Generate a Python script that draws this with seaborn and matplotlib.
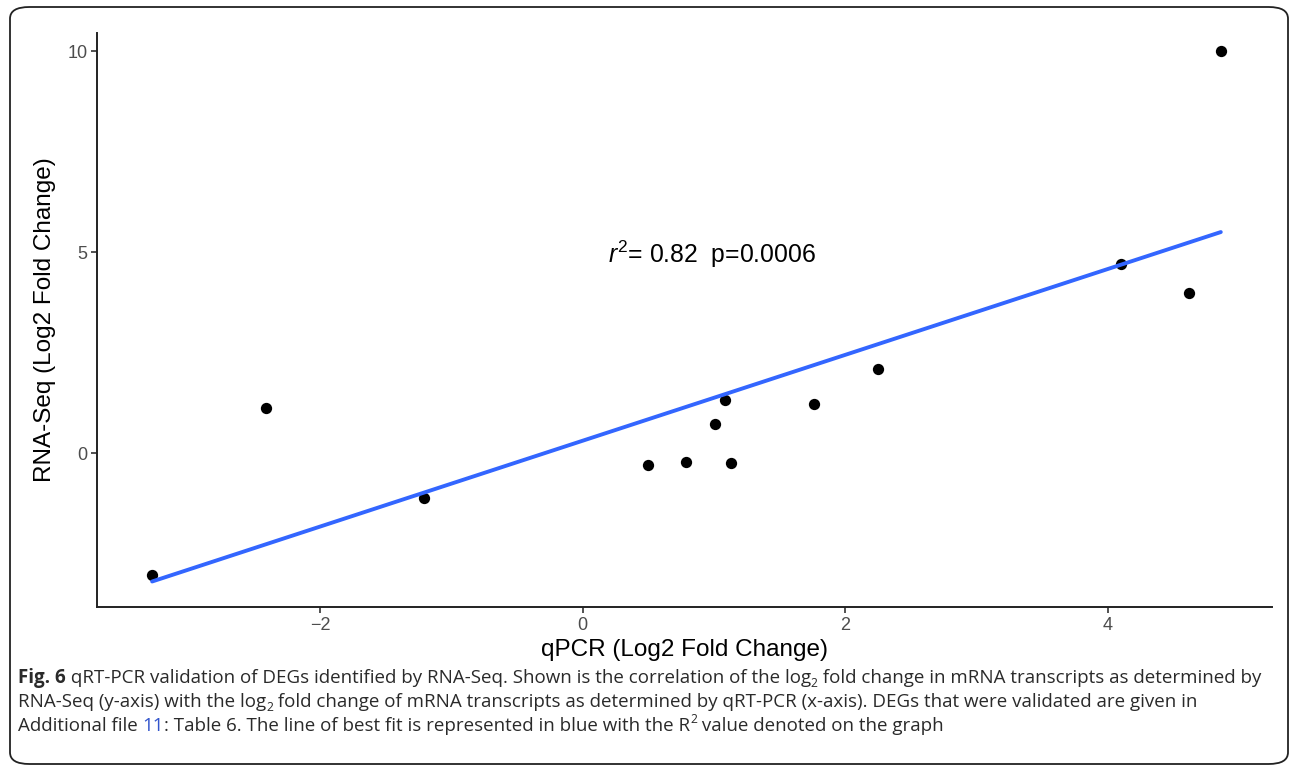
import numpy as np
import pandas as pd
import matplotlib
matplotlib.use('Agg')
import matplotlib.pyplot as plt
import seaborn as sns
from matplotlib.patches import FancyBboxPatch

# values
qpcr = [-3.28, -2.41, -1.21, 0.50, 0.79, 1.01, 1.08, 1.13, 1.76, 2.25, 4.10, 4.62, 4.86]
rnaseq = [-3.03, 1.12, -1.12, -0.30, -0.22, 0.72, 1.32, -0.25, 1.22, 2.09, 4.70, 3.98, 10.0]
x_ticks = [-2, 0, 2, 4]
y_ticks = [0, 5, 10]
stat_label = r'$r^2$= 0.82  p=0.0006'

df = pd.DataFrame({'qpcr': qpcr, 'rnaseq': rnaseq})

sns.set_style('white')
plt.rcParams['font.family'] = ['Liberation Sans', 'DejaVu Sans']
plt.rcParams['mathtext.fontset'] = 'custom'
plt.rcParams['mathtext.rm'] = 'Liberation Sans'
plt.rcParams['mathtext.it'] = 'Liberation Sans:italic'

W, H = 1290, 772
fig = plt.figure(figsize=(W / 100, H / 100), dpi=100)

# rounded frame round the whole figure
frame = FancyBboxPatch((10 / W, 8 / H), 1278 / W, 757 / H,
                       boxstyle='round,pad=0,rounding_size=0.015',
                       transform=fig.transFigure, fill=False,
                       edgecolor='#222222', linewidth=1.3)
fig.patches.append(frame)

ax = fig.add_axes([97 / W, 1 - 607 / H, (1272 - 97) / W, (607 - 33) / H])

sns.regplot(data=df, x='qpcr', y='rnaseq', ax=ax, ci=None, truncate=True,
            scatter_kws={'color': 'black', 's': 66, 'alpha': 1, 'linewidths': 0},
            line_kws={'color': '#3366FF', 'linewidth': 2.8})

ax.set_xlim(-3.70, 5.25)
ax.set_ylim(-3.83, 10.45)
ax.set_xticks(x_ticks)
ax.set_yticks(y_ticks)
ax.set_xticklabels(['\u22122', '0', '2', '4'])
ax.tick_params(axis='both', bottom=True, left=True, labelsize=13, labelcolor='#4d4d4d',
               color='#333333', length=4, width=1.2, direction='out', pad=3)
for side in ['top', 'right']:
    ax.spines[side].set_visible(False)
for side in ['left', 'bottom']:
    ax.spines[side].set_color('#222222')
    ax.spines[side].set_linewidth(1.4)

ax.set_xlabel('qPCR (Log2 Fold Change)', fontsize=17.5, color='black', labelpad=4)
ax.set_ylabel('RNA-Seq (Log2 Fold Change)', fontsize=17.5, color='black', labelpad=8)

ax.text(0.19, 4.95, stat_label, fontsize=17.8, ha='left', va='center', color='black')

# caption, drawn piece by piece
renderer = fig.canvas.get_renderer()
cap_font = ['Open Sans', 'DejaVu Sans']
cap_size = 13.5


def draw_line(pieces, x0, y0):
    x = x0
    for txt, kind in pieces:
        size = cap_size
        dy = 0
        weight = 'normal'
        color = '#2a2a2a'
        if kind == 'bold':
            weight = 'bold'
        elif kind == 'sub':
            size = cap_size * 0.65
            dy = -4
        elif kind == 'sup':
            size = cap_size * 0.65
            dy = 8
        elif kind == 'link':
            color = '#3355cc'
        t = fig.text(x / W, 1 - (y0 - dy) / H, txt, fontsize=size, family=cap_font,
                     weight=weight, color=color, ha='left', va='baseline')
        bb = t.get_window_extent(renderer)
        x += bb.width


lines = [
    [('Fig. 6', 'bold'),
     (' qRT-PCR validation of DEGs identified by RNA-Seq. Shown is the correlation of the log', 'n'),
     ('2', 'sub'), (' fold change in mRNA transcripts as determined by', 'n')],
    [('RNA-Seq (y-axis) with the log', 'n'), ('2', 'sub'),
     (' fold change of mRNA transcripts as determined by qRT-PCR (x-axis). DEGs that were validated are given in', 'n')],
    [('Additional file ', 'n'), ('11', 'link'),
     (': Table 6. The line of best fit is represented in blue with the R', 'n'), ('2', 'sup'),
     (' value denoted on the graph', 'n')],
]
for i, pieces in enumerate(lines):
    draw_line(pieces, 18, 683 + 24 * i)

fig.savefig('out.png', dpi=100)
